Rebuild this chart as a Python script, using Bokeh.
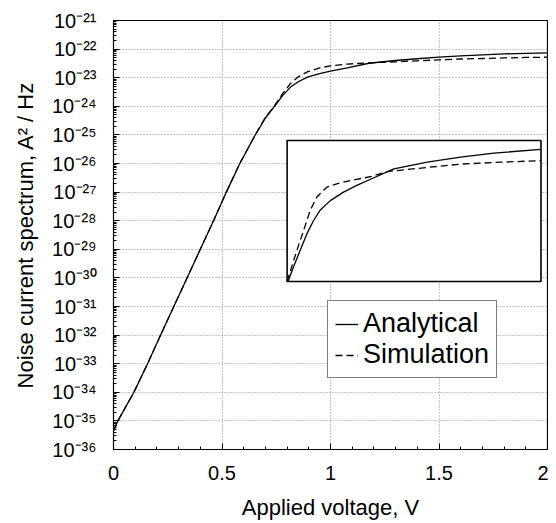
from bokeh.plotting import figure
from bokeh.models import (Range1d, LinearScale, FixedTicker, CustomJSTickFormatter,
                          Legend, LegendItem)
from bokeh.embed import file_html
from bokeh.resources import INLINE

# ---------------- data ----------------
voltage = [0.0, 0.02, 0.094, 0.157, 0.217, 0.278, 0.339, 0.40, 0.461, 0.52,
           0.582, 0.650, 0.70, 0.742, 0.78, 0.816, 0.85, 0.893, 0.95, 1.0,
           1.077, 1.177, 1.3, 1.4, 1.5, 1.6, 1.7, 1.8, 1.9, 2.0]
analytical = [4.5e-36, 1.0e-35, 1e-34, 1e-33, 1e-32, 1e-31, 1e-30, 1e-29, 1e-28, 1e-27,
              1e-26, 9.0e-26, 3.9e-25, 1.0e-24, 2.4e-24, 4.7e-24, 7.1e-24, 1.05e-23, 1.4e-23, 1.7e-23,
              2.2e-23, 3.2e-23, 4.0e-23, 4.6e-23, 5.2e-23, 5.8e-23, 6.3e-23, 6.8e-23, 7.1e-23, 7.4e-23]
simulation = [4.5e-36, 1.0e-35, 1e-34, 1e-33, 1e-32, 1e-31, 1e-30, 1e-29, 1e-28, 1e-27,
              1e-26, 9.0e-26, 4.1e-25, 1.05e-24, 2.8e-24, 6.3e-24, 1.05e-23, 1.6e-23, 2.2e-23, 2.6e-23,
              3.0e-23, 3.3e-23, 3.6e-23, 3.9e-23, 4.2e-23, 4.5e-23, 4.7e-23, 4.9e-23, 5.1e-23, 5.2e-23]

# inset (zoomed view, linear arbitrary units)
inset_v_analytical = [0.80, 0.806, 0.829, 0.860, 0.891, 0.922, 0.953, 0.999, 1.060, 1.121,
                      1.190, 1.292, 1.446, 1.599, 1.753, 1.968]
inset_analytical = [0.0, 0.06, 0.81, 1.76, 2.70, 3.46, 4.06, 4.59, 5.07, 5.45,
                    5.83, 6.39, 6.77, 7.06, 7.28, 7.50]
inset_v_simulation = [0.80, 0.806, 0.845, 0.876, 0.906, 0.937, 0.983, 1.029, 1.091, 1.190,
                      1.261, 1.446, 1.599, 1.753, 1.968]
inset_simulation = [0.0, 0.24, 1.76, 2.89, 4.03, 4.79, 5.35, 5.54, 5.73, 5.96,
                    6.24, 6.47, 6.66, 6.75, 6.86]

x_ticks = [0, 0.5, 1, 1.5, 2]
x_minor_ticks = [0.1, 0.2, 0.3, 0.4, 0.6, 0.7, 0.8, 0.9, 1.1, 1.2, 1.3, 1.4,
                 1.6, 1.7, 1.8, 1.9]
y_exponents = list(range(-36, -20))
y_tick_labels = ["10⁻³⁶", "10⁻³⁵", "10⁻³⁴", "10⁻³³", "10⁻³²", "10⁻³¹", "10⁻³⁰",
                 "10⁻²⁹", "10⁻²⁸", "10⁻²⁷", "10⁻²⁶", "10⁻²⁵", "10⁻²⁴", "10⁻²³",
                 "10⁻²²", "10⁻²¹"]

# ---------------- layout constants ----------------
FONT = "Liberation Sans"
INSET_X = (0.80, 1.97)
INSET_Y = (0.0, 8.0)
INSET_RANGE = (-9.532, 14.809)

p = figure(frame_width=434, frame_height=429, x_range=Range1d(0, 2), y_range=Range1d(1e-36, 1e-21),
           y_axis_type="log", output_backend="svg", toolbar_location=None,
           min_border_left=113, min_border_right=1, min_border_top=20, min_border_bottom=74)
p.background_fill_color = "white"
p.border_fill_color = "white"
p.outline_line_color = "black"
p.outline_line_width = 1.2

p.extra_y_ranges = {"inset": Range1d(*INSET_RANGE)}
p.extra_y_scales = {"inset": LinearScale()}

y_ticks = [10.0 ** e for e in y_exponents]
y_minor = [k * 10.0 ** e for e in y_exponents[:-1] for k in range(2, 10)]
yt = FixedTicker(ticks=y_ticks, minor_ticks=y_minor)
xt = FixedTicker(ticks=x_ticks, minor_ticks=x_minor_ticks)
p.yaxis.ticker = yt
p.xaxis.ticker = xt
p.ygrid.ticker = yt
p.xgrid.ticker = xt
p.yaxis.formatter = CustomJSTickFormatter(
    args=dict(exps=y_exponents, labels=y_tick_labels),
    code="""
const e = Math.round(Math.log10(tick));
const i = exps.indexOf(e);
return i >= 0 ? labels[i] : "";
""")

for ax in (p.xaxis[0], p.yaxis[0]):
    ax.major_tick_in = 6
    ax.major_tick_out = 0
    ax.minor_tick_in = 3
    ax.minor_tick_out = 0
    ax.axis_line_color = "black"
    ax.major_tick_line_color = "black"
    ax.minor_tick_line_color = "black"
    ax.major_label_text_font = FONT
    ax.major_label_text_color = "black"
    ax.axis_label_text_font = FONT
    ax.axis_label_text_font_style = "normal"
    ax.axis_label_text_font_size = "22px"
    ax.axis_label_text_color = "black"

p.xaxis.major_label_text_font_size = "20px"
p.yaxis.major_label_text_font_size = "20px"
p.xaxis.axis_label = "Applied voltage, V"
p.yaxis.axis_label = "Noise current spectrum, A² / Hz"
p.xaxis.major_label_standoff = 16
p.xaxis.axis_label_standoff = 12
p.yaxis.major_label_standoff = 17
p.yaxis.axis_label_standoff = 11

for g in (p.xgrid[0], p.ygrid[0]):
    g.grid_line_color = "#8a8a8a"
    g.grid_line_dash = "1 2"
    g.grid_line_width = 1

r_an = p.line(voltage, analytical, line_color="black", line_width=1.3)
r_sim = p.line(voltage, simulation, line_color="black", line_width=1.3, line_dash="7 4")

# inset
p.quad(left=INSET_X[0], right=INSET_X[1], bottom=INSET_Y[0], top=INSET_Y[1],
       y_range_name="inset", fill_color="white", line_color="black", line_width=1.6)
p.line(inset_v_analytical, inset_analytical, y_range_name="inset",
       line_color="black", line_width=1.3)
p.line(inset_v_simulation, inset_simulation, y_range_name="inset",
       line_color="black", line_width=1.3, line_dash="7 4")

legend = Legend(items=[LegendItem(label="Analytical", renderers=[r_an]),
                       LegendItem(label="Simulation", renderers=[r_sim])],
                location=(214, 71))
legend.label_text_font = FONT
legend.label_text_font_size = "27px"
legend.label_text_color = "black"
legend.glyph_width = 23
legend.label_standoff = 5
legend.padding = 7
legend.spacing = -4
legend.margin = 0
legend.border_line_color = "black"
legend.border_line_width = 1.2
legend.background_fill_color = "white"
legend.background_fill_alpha = 1.0
p.add_layout(legend)

open("out.html", "w").write(file_html(p, INLINE))
